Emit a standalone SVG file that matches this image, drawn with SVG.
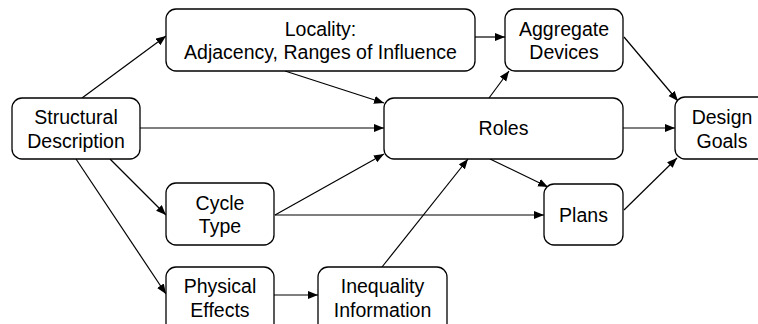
<svg xmlns="http://www.w3.org/2000/svg" width="758" height="324" viewBox="0 0 758 324">
<defs>
<style>
.n rect{fill:#fff;stroke:#000;stroke-width:1.3}
.n text{font-family:"Liberation Sans",Arial,sans-serif;font-size:19.5px;fill:#000;text-anchor:middle}
#edges line{stroke:#000;stroke-width:1.2;marker-end:url(#ah)}
</style>
<marker id="ah" markerUnits="userSpaceOnUse" markerWidth="11" markerHeight="9" refX="10" refY="4" orient="auto">
<path d="M0,0 L10,4 L0,8 z" fill="#000"/>
</marker>
</defs>
<rect width="758" height="324" fill="#fff"/>
<g id="edges">
<line x1="82" y1="98" x2="166" y2="36"/>
<line x1="285" y1="71" x2="384" y2="103"/>
<line x1="140" y1="128" x2="384" y2="128"/>
<line x1="110" y1="159" x2="166" y2="215"/>
<line x1="76" y1="159" x2="166" y2="294"/>
<line x1="275" y1="215" x2="384" y2="154"/>
<line x1="275" y1="215" x2="544" y2="215"/>
<line x1="274" y1="295" x2="318" y2="295"/>
<line x1="382" y1="267" x2="468" y2="159"/>
<line x1="490" y1="159" x2="548" y2="187"/>
<line x1="489" y1="98" x2="509" y2="71"/>
<line x1="475" y1="37" x2="505" y2="37"/>
<line x1="624" y1="37" x2="678" y2="101"/>
<line x1="623" y1="128" x2="675" y2="128"/>
<line x1="624" y1="210" x2="677" y2="158"/>
</g>
<g id="structural" class="n"><rect x="12" y="98" width="128" height="61" rx="10"/><text x="76" y="124">Structural</text><text x="76" y="148">Description</text></g>
<g id="locality" class="n"><rect x="166" y="9" width="309" height="62" rx="10"/><text x="320.5" y="36">Locality:</text><text x="320.5" y="59">Adjacency, Ranges of Influence</text></g>
<g id="aggregate" class="n"><rect x="505" y="9" width="118" height="62" rx="10"/><text x="564" y="36">Aggregate</text><text x="564" y="59">Devices</text></g>
<g id="roles" class="n"><rect x="384" y="98" width="239" height="61" rx="10"/><text x="503.5" y="135">Roles</text></g>
<g id="design" class="n"><rect x="675" y="97" width="95" height="62" rx="10"/><text x="722" y="124">Design</text><text x="722" y="148">Goals</text></g>
<g id="cycle" class="n"><rect x="166" y="183" width="108" height="62" rx="10"/><text x="220" y="210">Cycle</text><text x="220" y="233">Type</text></g>
<g id="plans" class="n"><rect x="544" y="184" width="79" height="61" rx="10"/><text x="583.5" y="222">Plans</text></g>
<g id="physical" class="n"><rect x="166" y="267" width="108" height="70" rx="10"/><text x="220" y="293">Physical</text><text x="220" y="317">Effects</text></g>
<g id="inequality" class="n"><rect x="318" y="267" width="129" height="70" rx="10"/><text x="382.5" y="293">Inequality</text><text x="382.5" y="317">Information</text></g>
</svg>
